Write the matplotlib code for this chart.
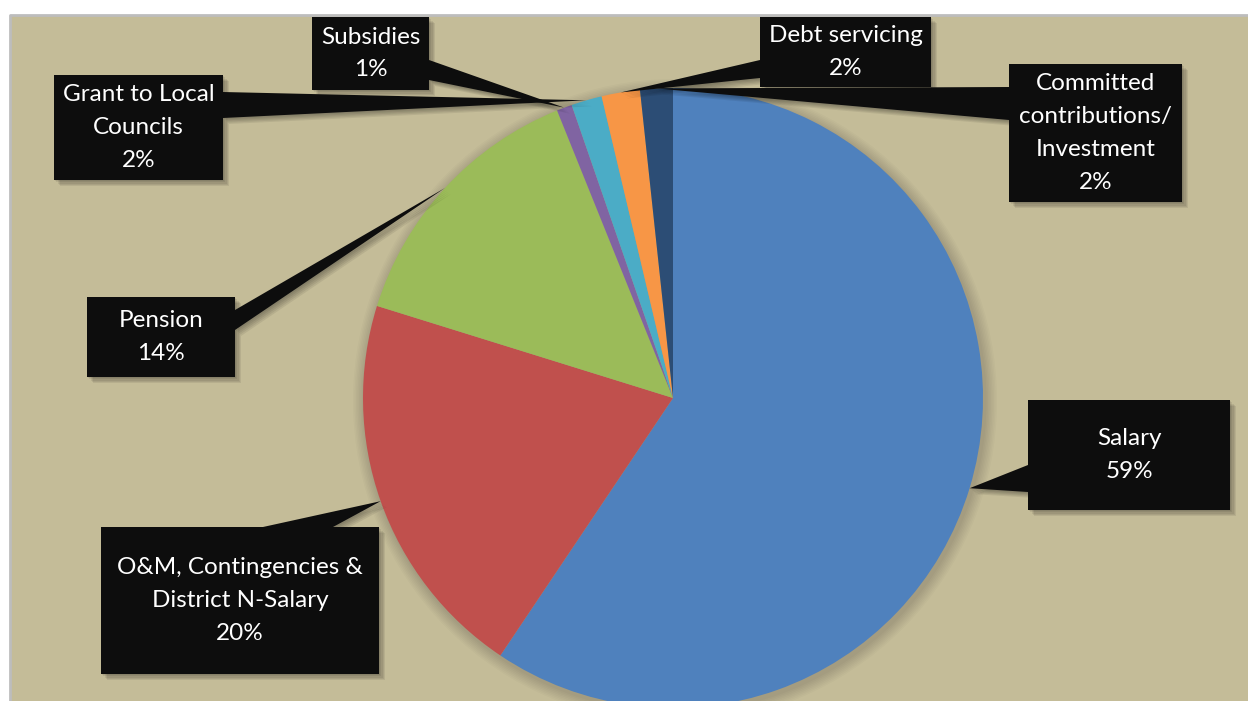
import matplotlib.pyplot as plt
import numpy as np
from matplotlib.patches import Rectangle, Polygon, Circle

# budget shares (percent), clockwise from 12 o'clock
categories = ["Salary", "O&M, Contingencies &\nDistrict N-Salary", "Pension",
              "Subsidies", "Grant to Local\nCouncils", "Debt servicing",
              "Committed\ncontributions/\nInvestment"]
shares = [59.4, 20.4, 14.1, 0.8, 1.6, 2.0, 1.7]
colors = ["#4f81bd", "#c0504d", "#9bbb59", "#8064a2", "#4bacc6", "#f79646", "#2c4d75"]

W, H = 1248, 701

# callout boxes in pixel coords: (left, top, right, bottom), and the two base points of the pointer
boxes = [
    ((1028, 400, 1230, 510), ((1028, 465), (1028, 492))),
    ((101, 527, 379, 674), ((263, 527), (333, 527))),
    ((87, 297, 235, 377), ((235, 310), (235, 330))),
    ((312, 17, 429, 90), ((429, 60), (429, 80))),
    ((54, 75, 223, 180), ((223, 92), (223, 118))),
    ((760, 17, 931, 87), ((760, 60), (760, 78))),
    ((1009, 64, 1182, 202), ((1009, 87), (1009, 120))),
]

cx, cy, R = 673, 398, 310


def fy(y):
    return H - y


fig = plt.figure(figsize=(W / 100, H / 100), dpi=100)
fig.patch.set_facecolor("white")
ax = fig.add_axes([0, 0, 1, 1])
ax.set_xlim(0, W)
ax.set_ylim(0, H)
ax.set_aspect("equal")
ax.axis("off")

# background panel
ax.add_patch(Rectangle((10, 0), W - 10, fy(15), facecolor="#c4bc98", edgecolor="none", zorder=0))
ax.plot([10, 10, W], [0, fy(15), fy(15)], color="#bdbdbd", lw=2, zorder=1)

# soft shadow round the pie
for k in range(1, 9):
    ax.add_patch(Circle((cx + 2, fy(cy) - 3), R + k * 1.5, facecolor="black",
                        edgecolor="none", alpha=0.02, zorder=1))

wedges, _ = ax.pie(shares, colors=colors, startangle=90, counterclock=False,
                   radius=R, center=(cx, fy(cy)),
                   wedgeprops=dict(edgecolor="none", zorder=2))
ax.set_xlim(0, W)
ax.set_ylim(0, H)

for w, cat, v, (box, base) in zip(wedges, categories, shares, boxes):
    mid = np.deg2rad((w.theta1 + w.theta2) / 2)
    tip = (cx + R * np.cos(mid), fy(cy) + R * np.sin(mid))
    l, t, r, b = box
    rect_pts = [(l, fy(t)), (r, fy(t)), (r, fy(b)), (l, fy(b))]
    ptr_pts = [(base[0][0], fy(base[0][1])), tip, (base[1][0], fy(base[1][1]))]
    # blurred drop shadow
    for k in range(1, 6):
        off = 1.2 * k
        ax.add_patch(Polygon([(x + off, y - off) for x, y in rect_pts], closed=True,
                             facecolor="black", edgecolor="none", alpha=0.07, zorder=3))
        ax.add_patch(Polygon([(x + off, y - off) for x, y in ptr_pts], closed=True,
                             facecolor="black", edgecolor="none", alpha=0.07, zorder=3))
    ax.add_patch(Polygon(rect_pts, closed=True, facecolor="#0d0d0d", edgecolor="none", zorder=4))
    ax.add_patch(Polygon(ptr_pts, closed=True, facecolor="#0d0d0d", edgecolor="none", zorder=4))
    ax.text((l + r) / 2, fy((t + b) / 2), f"{cat}\n{round(v)}%", color="white",
            ha="center", va="center", fontsize=17.5, linespacing=1.7,
            family=["Lato", "DejaVu Sans"], zorder=5)

fig.savefig("out.png", dpi=100, facecolor=fig.get_facecolor())
